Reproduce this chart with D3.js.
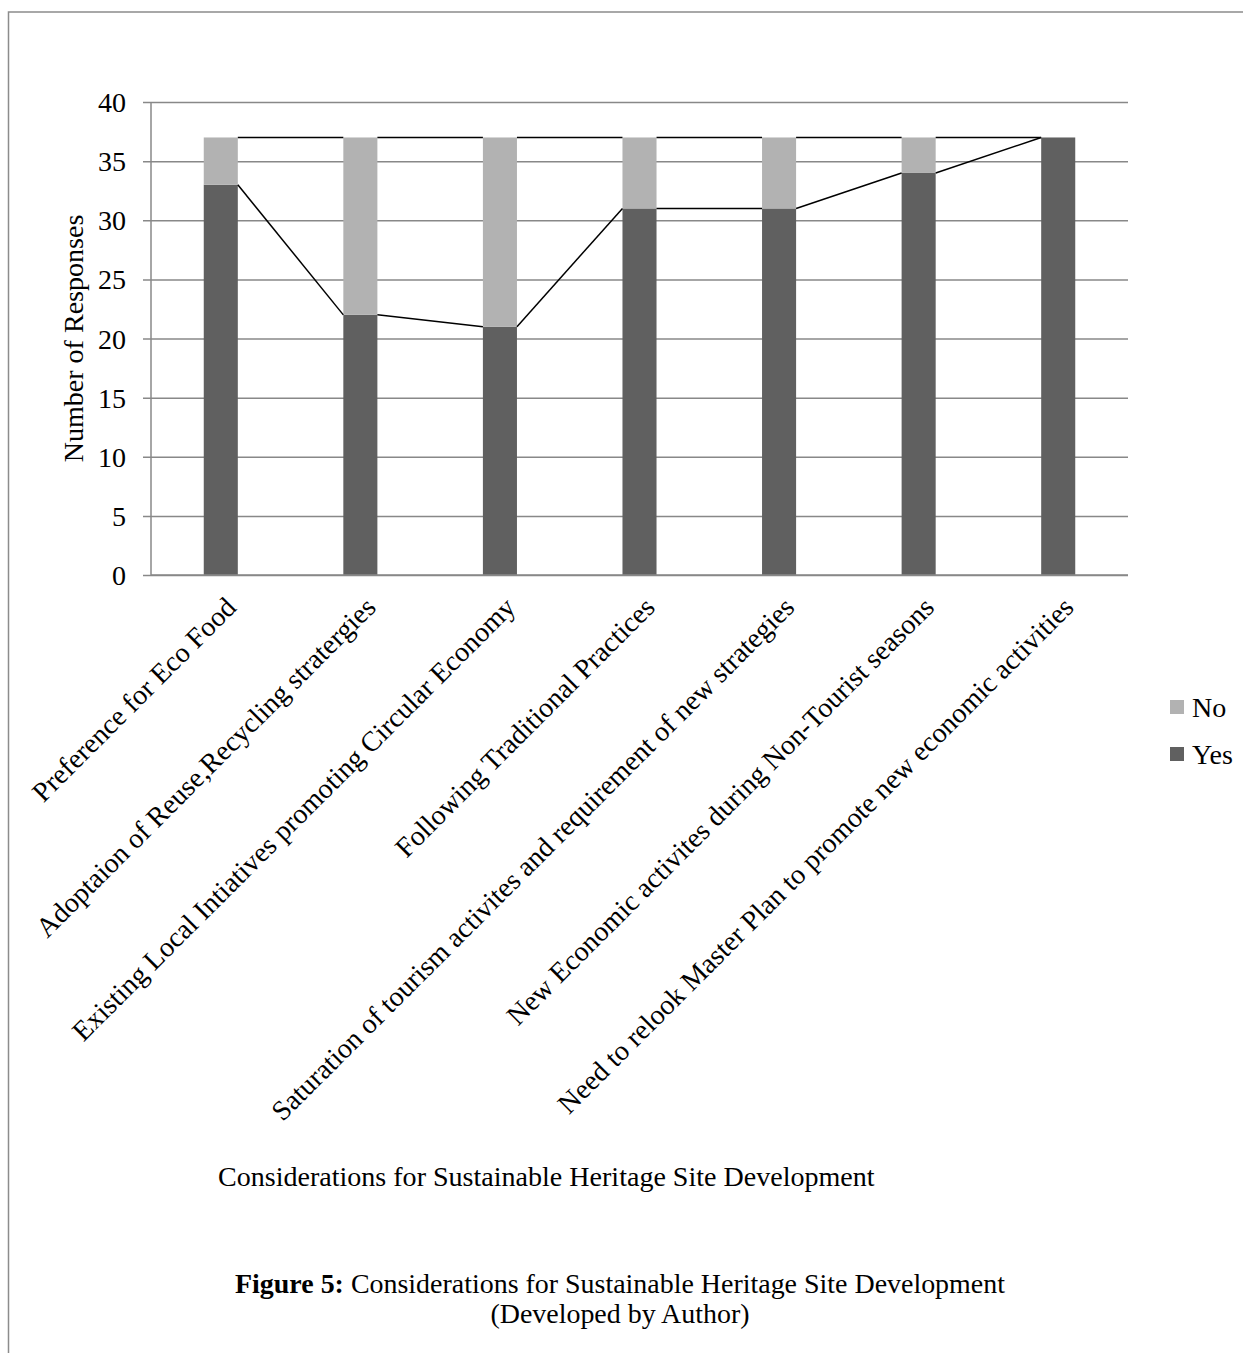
<!DOCTYPE html>
<html>
<head>
<meta charset="utf-8">
<script src="https://cdn.jsdelivr.net/npm/d3@7"></script>
<style>
  html, body { margin: 0; padding: 0; background: #fff; }
  svg { display: block; }
</style>
</head>
<body>
<svg id="chart" width="1243" height="1353"></svg>
<script>
// ---------------- data ----------------
const categories = [
  "Preference for Eco Food",
  "Adoptaion of Reuse,Recycling stratergies",
  "Existing Local Intiatives promoting Circular Economy",
  "Following Traditional Practices",
  "Saturation of tourism activites and requirement of new strategies",
  "New Economic activites during Non-Tourist seasons",
  "Need to relook Master Plan to promote new economic activities"
];
const yesValues = [33, 22, 21, 31, 31, 34, 37];
const noValues  = [4, 15, 16, 6, 6, 3, 0];
const yTicks = [0, 5, 10, 15, 20, 25, 30, 35, 40];
const legendNames = ["No", "Yes"];
const xTitleText = "Considerations for Sustainable Heritage Site Development";
const yTitleText = "Number of Responses";
const captionBold = "Figure 5:";
const captionRest = " Considerations for Sustainable Heritage Site Development";
const captionLine2 = "(Developed by Author)";

// ---------------- layout / style ----------------
const W = 1243, H = 1353;
const plot = { left: 151, right: 1128, top: 102, bottom: 575 };
const FONT = "'Liberation Serif', 'Times New Roman', serif";
const colors = { Yes: "#606060", No: "#b2b2b2" };
const gridColor = "#888888";

const svg = d3.select("#chart");
svg.append("rect").attr("width", W).attr("height", H).attr("fill", "#fff");

// measure helper: font size giving a target width
function fitSize(family, text, target, boldPrefix) {
  const t = svg.append("text").attr("font-family", family).attr("font-size", 100);
  if (boldPrefix) {
    t.append("tspan").attr("font-weight", "bold").text(boldPrefix);
    t.append("tspan").text(text);
  } else {
    t.text(text);
  }
  const len = t.node().getComputedTextLength();
  t.remove();
  return 100 * target / len;
}

const chartFontSize = fitSize(FONT, xTitleText, 657);
const captionFontSize = fitSize(FONT, captionRest, 770, captionBold);

// outer frame
svg.append("path")
  .attr("d", `M${W + 5},12 H8.5 V${H + 5}`)
  .attr("fill", "none").attr("stroke", "#8c8c8c").attr("stroke-width", 1.5);

// scales
const x = d3.scaleBand().domain(categories)
  .range([plot.left, plot.right])
  .paddingInner(0.756).paddingOuter(0.378);
const y = d3.scaleLinear().domain([0, 40]).range([plot.bottom, plot.top]);

// table built from arrays
const table = categories.map((c, i) => ({ cat: c, Yes: yesValues[i], No: noValues[i] }));
const stack = d3.stack().keys(["Yes", "No"])(table);

// gridlines + tick marks
const yAxis = d3.axisLeft(y).tickValues(yTicks).tickSize(8).tickFormat(d3.format("d"));
const gAxis = svg.append("g").attr("transform", `translate(${plot.left},0)`).call(yAxis);
gAxis.select(".domain").remove();
gAxis.selectAll(".tick line").attr("stroke", gridColor).attr("stroke-width", 1.5)
  .attr("x1", -8).attr("x2", plot.right - plot.left);
gAxis.selectAll(".tick text")
  .attr("x", -25).attr("dy", "0.34em")
  .attr("font-family", FONT).attr("font-size", chartFontSize).attr("fill", "#000");

// bars
svg.append("g").selectAll("g").data(stack).join("g")
  .attr("fill", d => colors[d.key])
  .selectAll("rect").data(d => d).join("rect")
  .attr("x", d => x(d.data.cat))
  .attr("width", x.bandwidth())
  .attr("y", d => y(d[1]))
  .attr("height", d => y(d[0]) - y(d[1]));

// series lines
const segs = [];
stack.forEach(layer => {
  for (let i = 0; i < layer.length - 1; i++) {
    segs.push({
      x1: x(layer[i].data.cat) + x.bandwidth(), y1: y(layer[i][1]),
      x2: x(layer[i + 1].data.cat), y2: y(layer[i + 1][1])
    });
  }
});
svg.append("g").selectAll("line").data(segs).join("line")
  .attr("x1", d => d.x1).attr("y1", d => d.y1)
  .attr("x2", d => d.x2).attr("y2", d => d.y2)
  .attr("stroke", "#000").attr("stroke-width", 1.5);

// axis lines
svg.append("line").attr("x1", plot.left).attr("x2", plot.left)
  .attr("y1", plot.top).attr("y2", plot.bottom)
  .attr("stroke", gridColor).attr("stroke-width", 1.5);
svg.append("line").attr("x1", plot.left).attr("x2", plot.right)
  .attr("y1", plot.bottom).attr("y2", plot.bottom)
  .attr("stroke", gridColor).attr("stroke-width", 1.5);

// category labels (rotated)
svg.append("g").selectAll("text").data(categories).join("text")
  .attr("transform", d => `translate(${x(d) + x.bandwidth() / 2 + 17},${plot.bottom + 34}) rotate(-45)`)
  .attr("text-anchor", "end")
  .attr("font-family", FONT).attr("font-size", chartFontSize).attr("fill", "#000")
  .text(d => d);

// y-axis title
svg.append("text")
  .attr("transform", `translate(83,${(plot.top + plot.bottom) / 2}) rotate(-90)`)
  .attr("text-anchor", "middle")
  .attr("font-family", FONT).attr("font-size", chartFontSize).attr("fill", "#000")
  .text(yTitleText);

// x-axis title
svg.append("text")
  .attr("x", 218).attr("y", 1186)
  .attr("font-family", FONT).attr("font-size", chartFontSize).attr("fill", "#000")
  .text(xTitleText);

// legend
const lg = svg.append("g").selectAll("g").data(legendNames).join("g")
  .attr("transform", (d, i) => `translate(1170,${700 + i * 47})`);
lg.append("rect").attr("width", 14).attr("height", 14).attr("fill", d => colors[d]);
lg.append("text").attr("x", 22).attr("y", 7).attr("dy", "0.34em")
  .attr("font-family", FONT).attr("font-size", chartFontSize).attr("fill", "#000")
  .text(d => d);

// caption
const cap = svg.append("text")
  .attr("x", 620).attr("y", 1293).attr("text-anchor", "middle")
  .attr("font-family", FONT).attr("font-size", captionFontSize).attr("fill", "#000");
cap.append("tspan").attr("font-weight", "bold").text(captionBold);
cap.append("tspan").text(captionRest);
svg.append("text")
  .attr("x", 620).attr("y", 1323).attr("text-anchor", "middle")
  .attr("font-family", FONT).attr("font-size", captionFontSize).attr("fill", "#000")
  .text(captionLine2);
</script>
</body>
</html>
